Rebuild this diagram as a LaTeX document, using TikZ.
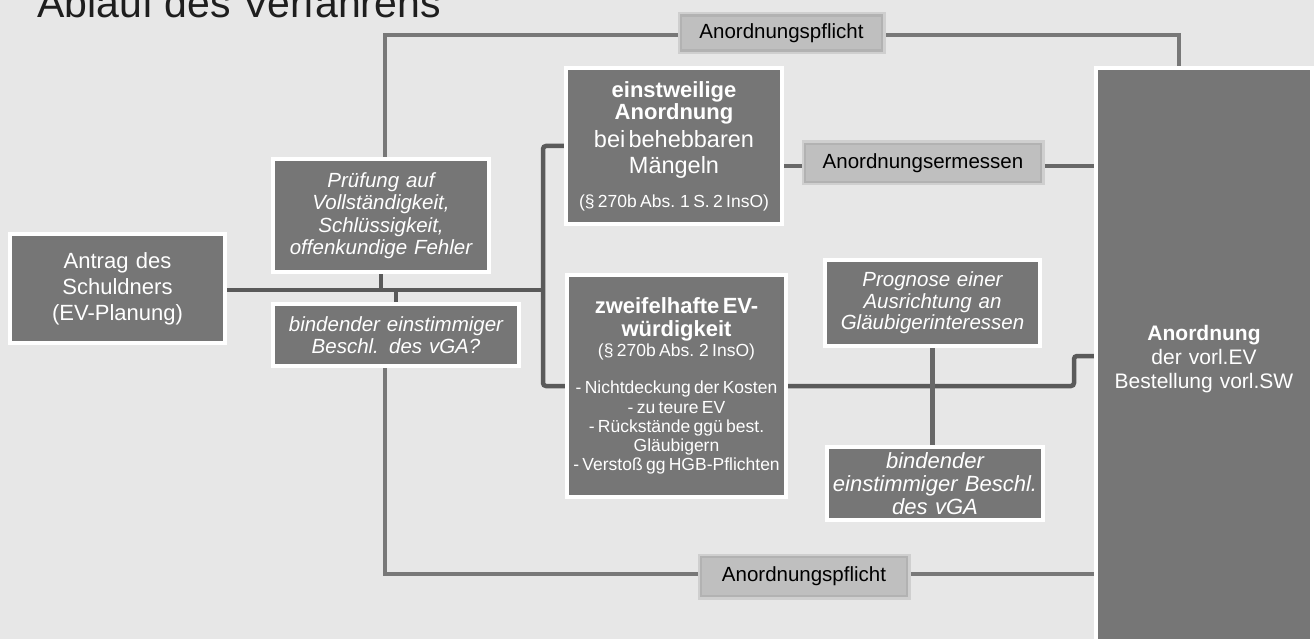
\documentclass[tikz,border=0pt]{standalone}
\usepackage{fontspec}
\setmainfont{Liberation Sans}[WordSpace=1.3]
\newfontfamily\titlefont{Liberation Sans}
\definecolor{bgc}{HTML}{E7E7E7}
\definecolor{boxc}{HTML}{767676}
\definecolor{linec}{HTML}{787878}
\definecolor{dlinec}{HTML}{5A5A5A}
\definecolor{mlinec}{HTML}{686868}
\definecolor{labc}{HTML}{BFBFBF}
\definecolor{labe}{HTML}{B2B2B2}
\definecolor{labs}{HTML}{CFCFCF}
\definecolor{titlec}{HTML}{1E1E1E}
\pgfdeclarelayer{bglayer}
\pgfdeclarelayer{background}
\pgfsetlayers{bglayer,background,main}
\tikzset{
  box/.style={draw=white, line width=4pt, fill=boxc, text=white, inner sep=0pt, align=center},
  lab/.style={fill=labc, draw=labe, line width=2.5pt, preaction={draw=labs, line width=7pt},
              text=black, inner sep=0pt, font=\fontsize{20.5}{24}\selectfont},
  conn/.style={draw=linec, line width=4.5pt},
  dconn/.style={draw=dlinec, line width=4.5pt},
  mconn/.style={draw=mlinec, line width=4.5pt},
  ital/.style={font=\fontsize{20.5}{22.5}\selectfont\itshape},
}
\begin{document}
\begin{tikzpicture}[x=1pt,y=-1pt]
\useasboundingbox (0,0) rectangle (1314,639);
\begin{pgfonlayer}{bglayer}
\fill[bgc] (0,0) rectangle (1314,639);
\end{pgfonlayer}

% title
\node[anchor=base west, inner sep=0pt, text=titlec, font=\titlefont\fontsize{41}{45}\selectfont] (title) at (37,18) {Ablauf des Verfahrens};

% boxes
\node[box, text width=215pt, minimum height=109pt, font=\fontsize{22}{26}\selectfont] (antrag) at (117.5,288.5)
  {Antrag des\\Schuldners\\(EV-Planung)};
\node[box, text width=216pt, minimum height=113pt, ital] (pruef) at (381,215.5)
  {Prüfung auf\\Vollständigkeit,\\Schlüssigkeit,\\offenkundige Fehler};
\node[box, text width=246pt, minimum height=62pt, ital] (bind1) at (396,335)
  {bindender einstimmiger\\Beschl. des vGA?};
\node[box, text width=216pt, minimum height=156pt] (einst) at (674,146)
  {{\bfseries\fontsize{22}{22}\selectfont einstweilige\\Anordnung\par}%
   \vspace{2pt}{\fontsize{23.5}{26}\selectfont bei behebbaren\\Mängeln\par}%
   \vspace{6pt}{\fontsize{17.5}{28}\selectfont (§ 270b Abs. 1 S. 2 InsO)\par}};
\node[box, text width=219pt, minimum height=222pt] (zweif) at (676.5,386)
  {{\bfseries\fontsize{22}{23}\selectfont zweifelhafte EV-\\würdigkeit\par}%
   {\fontsize{17.5}{20}\selectfont (§ 270b Abs. 2 InsO)\par}%
   \vspace{18pt}{\fontsize{17.5}{19.3}\selectfont - Nichtdeckung der Kosten\\- zu teure EV\\- Rückstände ggü best.\\Gläubigern\\- Verstoß gg HGB-Pflichten\par}};
\node[box, text width=215pt, minimum height=86pt, font=\fontsize{20.5}{21.5}\selectfont\itshape] (progn) at (932.5,303)
  {Prognose einer\\Ausrichtung an\\Gläubigerinteressen};
\node[box, text width=216pt, minimum height=73pt, font=\fontsize{22}{23}\selectfont\itshape] (bind2) at (935,483.5)
  {bindender\\einstimmiger Beschl.\\des vGA};
\node[box, text width=216pt, minimum height=582pt, font=\fontsize{21}{24}\selectfont] (big) at (1204,359)
  {{\bfseries Anordnung}\\der vorl.EV\\Bestellung vorl.SW\\[8pt]};

% labels
\node[lab, minimum width=201pt, minimum height=35pt] (topl) at (781.5,33) {Anordnungspflicht};
\node[lab, minimum width=236pt, minimum height=38pt] (erm) at (923,163) {Anordnungsermessen};
\node[lab, minimum width=206pt, minimum height=39pt] (botl) at (804,576.5) {Anordnungspflicht};

% helper coordinates
\coordinate (tl) at (385,35);
\coordinate (tr) at (1179,35);
\coordinate (bl) at (385,574);
\coordinate (br) at (543,290);
\coordinate (ermy) at (923,166);
\coordinate (zy) at (1074,386);
\coordinate (zy2) at (1074,356);

\begin{pgfonlayer}{background}
\draw[conn] (tl |- pruef.north) -- (tl) -- (tl -| topl.west);
\draw[conn] (tl -| topl.east) -- (tr) -- (tr |- big.north);
\draw[conn] (bl |- bind1.south) -- (bl) -- (bl -| botl.west);
\draw[conn] (bl -| botl.east) -- (bl -| big.west);
\draw[dconn] (antrag.east |- br) -- (br);
\draw[dconn] (pruef.south) -- (pruef.south |- br);
\draw[dconn] (bind1.north) -- (bind1.north |- br);
\draw[dconn, rounded corners=3pt] (einst.west) -| (br) |- (zweif.west);
\draw[mconn] (einst.east |- ermy) -- (ermy -| erm.west);
\draw[mconn] (ermy -| erm.east) -- (ermy -| big.west);
\draw[dconn, rounded corners=3pt] (zweif.east) -- (zy) -- (zy2) -- (zy2 -| big.west);
\draw[mconn] (progn.south) -- (progn.south |- bind2.north);
\end{pgfonlayer}
\end{tikzpicture}
\end{document}
